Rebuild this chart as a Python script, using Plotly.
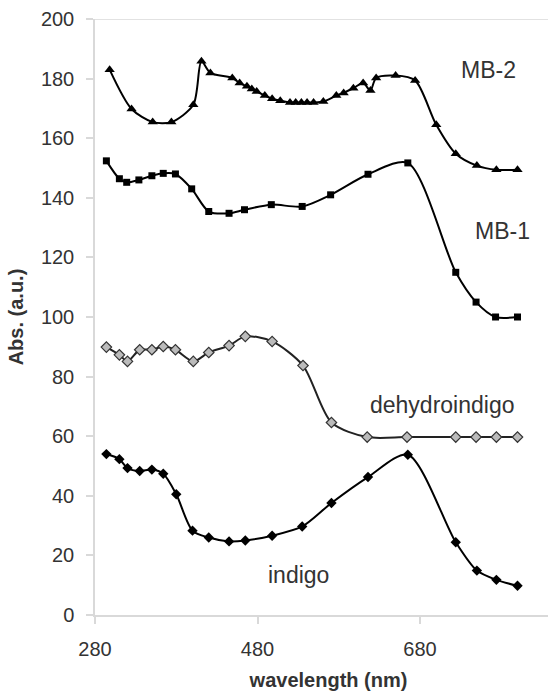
import plotly.graph_objects as go

# MB-2 (triangles)
mb2_x = [298, 325, 351, 374, 401, 411, 422, 449, 458, 467, 473, 479, 489, 498, 508, 520, 527, 534, 541, 549, 561, 577, 586, 598, 610, 619, 626, 650, 674, 700, 724, 750, 774, 800]
mb2_y = [183, 169.8, 165.4, 165.4, 171.2, 185.8, 181.9, 180.2, 178.5, 177.4, 176.5, 175.7, 174.3, 173.2, 172.6, 172, 172, 172, 172, 172, 172.3, 174.3, 175.2, 176.8, 178.5, 176, 180.2, 181, 179.4, 164.5, 154.8, 150.8, 149.4, 149.4]

# MB-1 (squares)
mb1_x = [294, 310, 319, 334, 350, 364, 379, 399, 420, 445, 464, 497, 535, 570, 616, 665, 724, 749, 773, 800]
mb1_y = [152.4, 146.4, 145.2, 146, 147.4, 148.2, 148, 143, 135.4, 134.8, 136, 137.7, 137.1, 141, 147.9, 151.7, 115, 105, 100, 100]

# dehydroindigo (open diamonds)
dh_x = [294, 310, 320, 335, 350, 364, 379, 401, 420, 445, 465, 498, 536, 571, 615, 664, 724, 749, 774, 800]
dh_y = [89.9, 87.3, 85.1, 89, 89, 90.1, 89, 85.1, 88.1, 90.4, 93.5, 91.8, 83.7, 64.6, 59.7, 59.7, 59.7, 59.7, 59.7, 59.7]

# indigo (filled diamonds)
in_x = [294, 310, 320, 335, 350, 364, 380, 400, 420, 445, 465, 498, 535, 571, 616, 665, 724, 750, 774, 800]
in_y = [54, 52.3, 49.3, 48.3, 48.8, 47.4, 40.5, 28.3, 26, 24.7, 25, 26.6, 29.7, 37.6, 46.3, 53.8, 24.4, 14.9, 11.8, 9.8]

labels = ["MB-2", "MB-1", "dehydroindigo", "indigo"]
label_x = [764, 781, 708, 530]
label_y = [183, 128.7, 70.6, 13.5]

x_ticks = [280, 480, 680]
y_ticks = [0, 20, 40, 60, 80, 100, 120, 140, 160, 180, 200]

FONT = "Liberation Sans, Arial, sans-serif"
TXT = "#333333"
AXC = "#d9d9d9"

fig = go.Figure()
fig.add_trace(go.Scatter(x=mb2_x, y=mb2_y, mode="lines+markers",
                         line=dict(color="black", width=2, shape="spline", smoothing=0.8),
                         marker=dict(symbol="triangle-up", size=9, color="black")))
fig.add_trace(go.Scatter(x=mb1_x, y=mb1_y, mode="lines+markers",
                         line=dict(color="black", width=2, shape="spline", smoothing=0.8),
                         marker=dict(symbol="square", size=7, color="black")))
fig.add_trace(go.Scatter(x=dh_x, y=dh_y, mode="lines+markers",
                         line=dict(color="#222222", width=2, shape="spline", smoothing=0.8),
                         marker=dict(symbol="diamond", size=8, color="#bbbbbb",
                                     line=dict(color="#333333", width=1.2))))
fig.add_trace(go.Scatter(x=in_x, y=in_y, mode="lines+markers",
                         line=dict(color="black", width=2, shape="spline", smoothing=0.8),
                         marker=dict(symbol="diamond", size=8, color="black")))

for t, x, y in zip(labels, label_x, label_y):
    fig.add_annotation(x=x, y=y, text=t, showarrow=False,
                       font=dict(family=FONT, size=23, color=TXT))

# top border of the plot area
fig.add_shape(type="line", xref="paper", yref="y", x0=0, x1=1, y0=200, y1=200,
              line=dict(color=AXC, width=1.5), layer="below")

# figure a little wider than the window so the chart looks cropped on the right
fig.update_layout(
    width=562, height=691,
    margin=dict(l=95, r=0, t=19, b=76),
    paper_bgcolor="white", plot_bgcolor="white",
    showlegend=False,
    font=dict(family=FONT, color=TXT),
)
fig.update_xaxes(range=[280, 280 + (562 - 95) / 0.8125], tickvals=x_ticks, showgrid=False, zeroline=False,
                 showline=True, linecolor=AXC, linewidth=1.5, mirror=False,
                 ticks="outside", ticklen=7, tickcolor=AXC, tickwidth=1.5,
                 tickfont=dict(family=FONT, size=20, color=TXT), ticklabelstandoff=8,
                 title=dict(text="<b>wavelength (nm)</b>", font=dict(family=FONT, size=20, color=TXT), standoff=15))
fig.update_yaxes(range=[0, 200], tickvals=y_ticks, showgrid=False, zeroline=False,
                 showline=True, linecolor=AXC, linewidth=1.5,
                 ticks="outside", ticklen=7, tickcolor=AXC, tickwidth=1.5,
                 tickfont=dict(family=FONT, size=20, color=TXT), ticklabelstandoff=8,
                 title=dict(text="<b>Abs. (a.u.)</b>", font=dict(family=FONT, size=20, color=TXT), standoff=12))

fig.write_html("out.html", post_script="document.documentElement.style.overflow='hidden';document.body.style.overflow='hidden';document.body.style.margin='0';")
